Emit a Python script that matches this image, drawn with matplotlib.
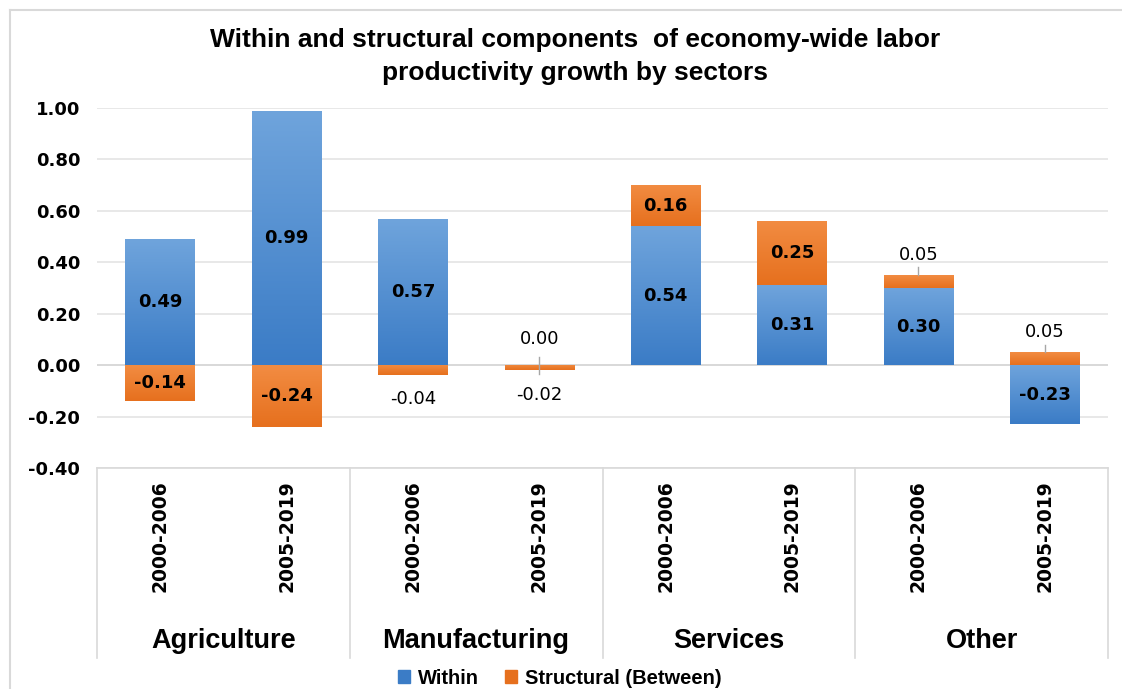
import numpy as np
import matplotlib.pyplot as plt
from matplotlib.colors import LinearSegmentedColormap
from matplotlib.patches import Rectangle
from matplotlib.lines import Line2D

# data
sectors = ['Agriculture', 'Manufacturing', 'Services', 'Other']
periods = ['2000-2006', '2005-2019']
within = [0.49, 0.99, 0.57, 0.00, 0.54, 0.31, 0.30, -0.23]
structural = [-0.14, -0.24, -0.04, -0.02, 0.16, 0.25, 0.05, 0.05]
yticks = [-0.40, -0.20, 0.00, 0.20, 0.40, 0.60, 0.80, 1.00]

blue_top, blue_bot = '#6fa4dc', '#3b7cc6'
orng_top, orng_bot = '#f28c42', '#e6701e'
num_font = 'DejaVu Sans'
txt_font = ['Liberation Sans Narrow', 'Liberation Sans', 'DejaVu Sans']

W, H = 1122, 689
fig = plt.figure(figsize=(W / 100, H / 100), dpi=100)
ax = fig.add_axes([97 / W, 1 - 468 / H, (1108 - 97) / W, 360 / H])

n = len(within)
x = np.arange(n)
bw = 0.55

# stacking: positive and negative parts stacked separately (Excel style)
within = np.array(within)
structural = np.array(structural)
s_bottom = np.where(np.sign(structural) == np.sign(within), within, 0.0)

b1 = ax.bar(x, within, bw, color=blue_bot, zorder=2, linewidth=0)
b2 = ax.bar(x, structural, bw, bottom=s_bottom, color=orng_bot, zorder=2, linewidth=0)

# gradient fills clipped to bars
grad = np.linspace(1, 0, 100).reshape(-1, 1)
for bars, top, bot in [(b1, blue_top, blue_bot), (b2, orng_top, orng_bot)]:
    cmap = LinearSegmentedColormap.from_list('g', [bot, top])
    for p in bars:
        x0, y0 = p.get_x(), min(p.get_y(), p.get_y() + p.get_height())
        x1, y1 = x0 + p.get_width(), max(p.get_y(), p.get_y() + p.get_height())
        if y1 - y0 < 1e-6:
            continue
        im = ax.imshow(grad, extent=[x0, x1, y0, y1], cmap=cmap, aspect='auto',
                       zorder=3, interpolation='bicubic')
        im.set_clip_path(p)

ax.set_xlim(-0.5, n - 0.5)
ax.set_ylim(-0.4, 1.0)
ax.set_yticks(yticks)
ax.set_yticklabels([f'{v:.2f}' for v in yticks], fontsize=13, fontweight='bold',
                   family=num_font)
ax.yaxis.grid(True, color='#e4e4e4', linewidth=1.2, zorder=0)
ax.axhline(0, color='#d9d9d9', linewidth=1.4, zorder=1)
ax.set_axisbelow(True)
ax.tick_params(axis='y', length=0, pad=12)
for s in ax.spines.values():
    s.set_visible(False)

ax.set_xticks(x)
ax.set_xticklabels(periods * 4, rotation=90, fontsize=13.5, fontweight='bold',
                   family=num_font, va='top')
ax.tick_params(axis='x', length=0, pad=9)

# category axis lines
sep_kw = dict(color='#d9d9d9', linewidth=1.2, clip_on=False)
ax.plot([0, 1], [0, 0], transform=ax.transAxes, **sep_kw)
depth = -(658 - 468) / 360
for g in range(len(sectors) + 1):
    xs = -0.5 + 2 * g
    ax.plot([xs, xs], [-0.4, -0.4 + depth * 1.4], **sep_kw)
for g, name in enumerate(sectors):
    ax.text(2 * g + 0.5, -0.4 - (641 - 468) / 360 * 1.4, name, ha='center', va='center',
            fontsize=19.5, fontweight='bold', family=txt_font)

# value labels
lab_kw = dict(ha='center', va='center', fontsize=13, family=num_font, zorder=5)
lead_kw = dict(color='#a6a6a6', linewidth=1, zorder=4)
for i in range(n):
    w, s = within[i], structural[i]
    if abs(w) >= 0.1:
        ax.text(x[i], w / 2, f'{w:.2f}', fontweight='bold', **lab_kw)
    else:
        ax.plot([x[i], x[i]], [w + 0.03, w - 0.035], **lead_kw)
        ax.text(x[i], w + 0.10, f'{abs(w):.2f}', **lab_kw)
    mid = s_bottom[i] + s / 2
    if abs(s) >= 0.1:
        ax.text(x[i], mid, f'{s:.2f}', fontweight='bold', **lab_kw)
    elif s < 0:
        ax.text(x[i], s_bottom[i] + s - 0.09 if w != 0 else s - 0.095, f'{s:.2f}', **lab_kw)
    else:
        top = s_bottom[i] + s
        ax.plot([x[i], x[i]], [top, top + 0.03], **lead_kw)
        ax.text(x[i], top + 0.08, f'{s:.2f}', **lab_kw)

# title
fig.text(575 / W, 1 - 40 / H, 'Within and structural components  of economy-wide labor',
         ha='center', va='center', fontsize=19, fontweight='bold', family=txt_font)
fig.text(575 / W, 1 - 73 / H, 'productivity growth by sectors',
         ha='center', va='center', fontsize=19, fontweight='bold', family=txt_font)

# legend
handles = [Rectangle((0, 0), 1, 1, color=blue_bot), Rectangle((0, 0), 1, 1, color=orng_bot)]
fig.legend(handles, ['Within', 'Structural (Between)'], loc='center',
           bbox_to_anchor=(560 / W, 1 - 678 / H), ncol=2, frameon=False,
           prop={'family': txt_font, 'weight': 'bold', 'size': 14.5},
           handlelength=0.6, handleheight=0.6, handletextpad=0.4, columnspacing=1.3)

# outer chart border
fig.add_artist(Line2D([10 / W, 1], [1 - 10 / H, 1 - 10 / H], color='#d9d9d9', linewidth=1.5))
fig.add_artist(Line2D([10 / W, 10 / W], [0, 1 - 10 / H], color='#d9d9d9', linewidth=1.5))

fig.savefig('out.png', dpi=100)
